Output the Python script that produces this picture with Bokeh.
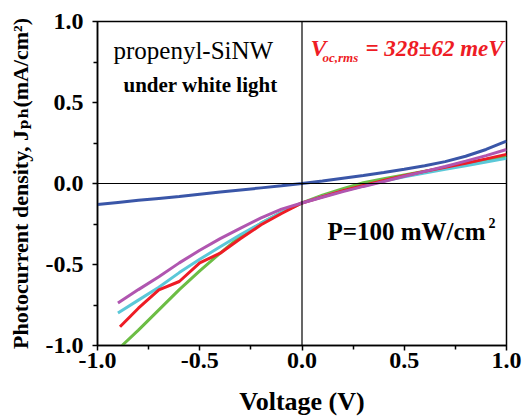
from bokeh.plotting import figure
from bokeh.models import Span, Label, FixedTicker, Range1d
from bokeh.embed import file_html
from bokeh.resources import INLINE

# ---- data ----
v_blue = [-1.0, -0.9, -0.8, -0.7, -0.6, -0.5, -0.4, -0.3, -0.2, -0.1, 0.0,
          0.1, 0.2, 0.3, 0.4, 0.5, 0.6, 0.7, 0.8, 0.9, 1.0]
j_blue = [-0.13, -0.117, -0.104, -0.092, -0.08, -0.066, -0.053, -0.04, -0.027, -0.014, 0.0,
          0.016, 0.033, 0.05, 0.068, 0.088, 0.11, 0.135, 0.168, 0.21, 0.262]

v_green = [-0.88, -0.8, -0.7, -0.6, -0.5, -0.4, -0.3, -0.2, -0.1, 0.0,
           0.1, 0.2, 0.3, 0.4, 0.5, 0.6, 0.7, 0.8, 0.9, 1.0]
j_green = [-1.0, -0.905, -0.78, -0.655, -0.54, -0.43, -0.325, -0.245, -0.178, -0.12,
           -0.072, -0.032, 0.005, 0.03, 0.053, 0.075, 0.097, 0.12, 0.143, 0.165]

v_cyan = [-0.9, -0.8, -0.7, -0.6, -0.5, -0.4, -0.3, -0.2, -0.1, 0.0,
          0.1, 0.2, 0.3, 0.4, 0.5, 0.6, 0.7, 0.8, 0.9, 1.0]
j_cyan = [-0.80, -0.72, -0.64, -0.55, -0.468, -0.39, -0.315, -0.245, -0.178, -0.12,
          -0.08, -0.045, -0.015, 0.015, 0.042, 0.065, 0.088, 0.11, 0.133, 0.155]

v_red = [-0.89, -0.8, -0.7, -0.6, -0.5, -0.4, -0.3, -0.2, -0.1, 0.0,
         0.1, 0.2, 0.3, 0.4, 0.5, 0.6, 0.7, 0.8, 0.9, 1.0]
j_red = [-0.884, -0.77, -0.657, -0.605, -0.49, -0.43, -0.34, -0.255, -0.185, -0.12,
         -0.082, -0.045, -0.012, 0.018, 0.048, 0.075, 0.10, 0.125, 0.152, 0.18]

v_purple = [-0.9, -0.8, -0.7, -0.6, -0.5, -0.4, -0.3, -0.2, -0.1, 0.0,
            0.1, 0.2, 0.3, 0.4, 0.5, 0.6, 0.7, 0.8, 0.9, 1.0]
j_purple = [-0.738, -0.655, -0.575, -0.49, -0.412, -0.34, -0.275, -0.212, -0.158, -0.12,
            -0.085, -0.05, -0.018, 0.012, 0.045, 0.075, 0.105, 0.138, 0.172, 0.21]

major_ticks = [-1.0, -0.5, 0.0, 0.5, 1.0]
minor_ticks = [-0.75, -0.25, 0.25, 0.75]
tick_labels = ["-1.0", "-0.5", "0.0", "0.5", "1.0"]

FONT = "Liberation Serif"

p = figure(width=529, height=418, output_backend="svg", toolbar_location=None,
           x_range=Range1d(-1, 1), y_range=Range1d(-1, 1),
           min_border_left=97, min_border_right=23, min_border_top=21,
           min_border_bottom=69)
p.grid.visible = False
p.outline_line_color = "black"
p.outline_line_width = 1.5
p.background_fill_color = "white"
p.border_fill_color = "white"

for ax in (p.xaxis[0], p.yaxis[0]):
    ax.ticker = FixedTicker(ticks=major_ticks, minor_ticks=minor_ticks)
    ax.major_label_overrides = {t: l for t, l in zip(major_ticks, tick_labels)}
    ax.axis_line_color = "black"
    ax.axis_line_width = 1.5
    ax.major_tick_line_color = "black"
    ax.major_tick_line_width = 1.5
    ax.minor_tick_line_color = "black"
    ax.minor_tick_line_width = 1.5
    ax.major_tick_in = 0
    ax.major_tick_out = 5
    ax.minor_tick_in = 0
    ax.minor_tick_out = 4
    ax.major_label_text_font = FONT
    ax.major_label_text_font_style = "bold"
    ax.major_label_text_font_size = "24px"
    ax.major_label_text_color = "black"
    ax.axis_label_text_font = FONT
    ax.axis_label_text_font_style = "bold"
    ax.axis_label_text_color = "black"

p.xaxis.major_label_standoff = 2
p.yaxis.major_label_standoff = 9
p.xaxis.axis_label = "Voltage (V)"
p.xaxis.axis_label_text_font_size = "26px"
p.xaxis.axis_label_standoff = 16
p.yaxis.axis_label = "Photocurrent density, J\u209a\u2095(mA/cm\u00b2)"
p.yaxis.axis_label_text_font = "Liberation Serif, DejaVu Serif"
p.yaxis.axis_label_text_font_size = "22px"
p.yaxis.axis_label_standoff = 10

p.add_layout(Span(location=0, dimension="width", line_color="black", line_width=1.2))
p.add_layout(Span(location=0, dimension="height", line_color="black", line_width=1.2))

p.line(v_blue, j_blue, line_color="#3a56a8", line_width=3)
p.line(v_green, j_green, line_color="#6cbd45", line_width=3)
p.line(v_cyan, j_cyan, line_color="#5bc8d8", line_width=3)
p.line(v_red, j_red, line_color="#ee1c25", line_width=3)
p.line(v_purple, j_purple, line_color="#b056b0", line_width=3)

def lab(x, y, text, size, style="normal", color="black"):
    p.add_layout(Label(x=x, y=y, text=text, text_font=FONT, text_font_size=size,
                       text_font_style=style, text_color=color,
                       text_baseline="alphabetic", text_align="left"))

# page-pixel helpers for text placement (frame: x 97..506, y 21..349)
def px(xp):
    return -1.0 + (xp - 97) / 204.5

def py(yp):
    return 1.0 - (yp - 21) / 164.0

lab(px(113), py(50), "propenyl-SiNW", "25px")
lab(px(123), py(85), "under white light", "21px", "bold")
RED = "#ee1c25"
lab(px(310), py(48), "V", "24px", "bold italic", RED)
lab(px(322), py(57), "oc,rms", "13px", "bold italic", RED)
lab(px(365), py(48), "= 328\u00b162 meV", "23px", "bold italic", RED)
lab(px(327), py(234), "P=100 mW/cm", "25px", "bold")
lab(px(488), py(225), "2", "14px", "bold")

open("out.html", "w").write(file_html(p, INLINE))
